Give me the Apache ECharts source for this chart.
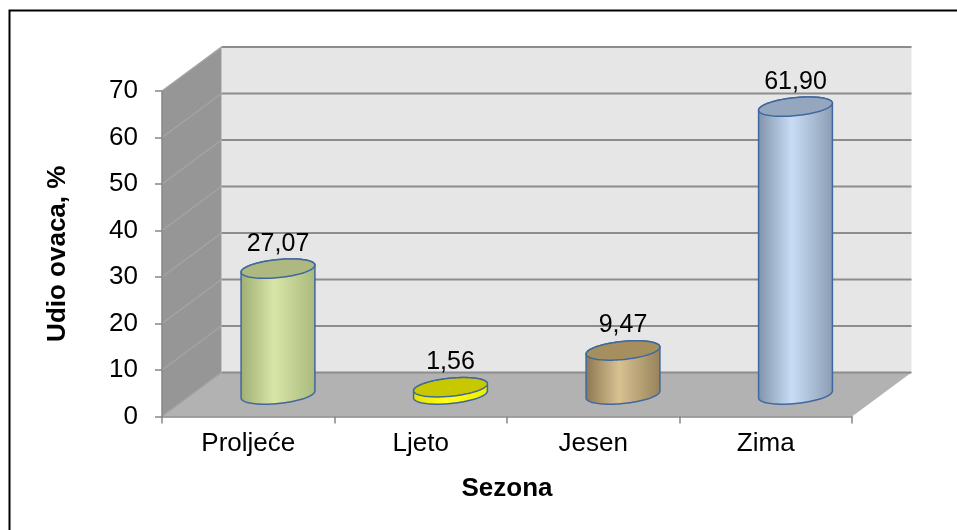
<!DOCTYPE html>
<html>
<head>
<meta charset="utf-8">
<script src="https://cdn.jsdelivr.net/npm/echarts@6/dist/echarts.min.js"></script>
<style>
html,body{margin:0;padding:0;background:#fff;}
#chart{width:957px;height:530px;}
</style>
</head>
<body>
<div id="chart"></div>
<script>
// ---- data ----
const categories = ['Proljeće', 'Ljeto', 'Jesen', 'Zima'];
const values = [27.07, 1.56, 9.47, 61.90];
const valueLabels = ['27,07', '1,56', '9,47', '61,90'];
const yMin = 0, yMax = 70, yStep = 10;
const xTitle = 'Sezona';
const yTitle = 'Udio ovaca, %';

// ---- styles ----
const FONT = '"Liberation Sans", Arial, sans-serif';
const DX = 59.5, DY = -44;           // 3D depth offset
const bodyDark = ['#9fae74', '#e3e300', '#8c7650', '#8093ab'];
const bodyLight = ['#d8e6a8', '#ffff1a', '#d8c292', '#c8ddf5'];
const bodyMid = ['#a9b87c', '#eded00', '#97825a', '#8a9db5'];
const topColors = ['#adb981', '#c8c800', '#a58f5f', '#94a7bf'];
const outline = '#40679e';

function wallsRender(params, api) {
  const cs = params.coordSys;
  const x0 = cs.x, x1 = cs.x + cs.width;
  const yb = api.coord([0, yMin])[1];
  const yt = api.coord([0, yMax])[1];
  const children = [];
  children.push({type: 'polygon', shape: {points: [[x0 + DX, yt + DY], [x1 + DX, yt + DY], [x1 + DX, yb + DY], [x0 + DX, yb + DY]]},
    style: {fill: '#e6e6e6'}});
  children.push({type: 'polygon', shape: {points: [[x0, yt], [x0 + DX, yt + DY], [x0 + DX, yb + DY], [x0, yb]]},
    style: {fill: '#969696'}});
  children.push({type: 'polygon', shape: {points: [[x0, yb], [x0 + DX, yb + DY], [x1 + DX, yb + DY], [x1, yb]]},
    style: {fill: '#b2b2b2'}});
  for (let v = yMin; v <= yMax; v += yStep) {
    const y = api.coord([0, v])[1];
    children.push({type: 'line', shape: {x1: x0 + DX, y1: y + DY, x2: x1 + DX, y2: y + DY},
      style: {stroke: '#8c8c8c', lineWidth: 2}});
    children.push({type: 'line', shape: {x1: x0, y1: y, x2: x0 + DX, y2: y + DY},
      style: {stroke: '#a4a4a4', lineWidth: 1.5}});
  }
  return {type: 'group', children: children};
}

function cylRender(params, api) {
  const i = api.value(0), v = api.value(1);
  const base = api.coord([i, 0]);
  const top = api.coord([i, v]);
  const bw = api.size([1, 0])[0];
  const a = bw * 0.215, b = 9, th = -0.1;
  const cx = base[0] + DX / 2;
  const yb = base[1] + DY / 2, yt = top[1] + DY / 2;
  const pt = (cy, t) => [
    cx + a * Math.cos(t) * Math.cos(th) - b * Math.sin(t) * Math.sin(th),
    cy + a * Math.cos(t) * Math.sin(th) + b * Math.sin(t) * Math.cos(th)
  ];
  const t0 = Math.atan2(-b * Math.sin(th), a * Math.cos(th));
  const N = 48;
  const body = [];
  for (let k = 0; k <= N; k++) body.push(pt(yb, t0 + Math.PI * k / N));
  for (let k = 0; k <= N; k++) body.push(pt(yt, t0 + Math.PI + Math.PI * k / N));
  const topE = [];
  for (let k = 0; k < 2 * N; k++) topE.push(pt(yt, Math.PI * k / N));
  return {
    type: 'group',
    children: [
      {type: 'polygon', shape: {points: body},
        style: {
          fill: new echarts.graphic.LinearGradient(0, 0, 1, 0, [
            {offset: 0, color: bodyDark[i]},
            {offset: 0.45, color: bodyLight[i]},
            {offset: 1, color: bodyMid[i]}
          ]),
          stroke: outline, lineWidth: 1.5
        }},
      {type: 'polygon', shape: {points: topE},
        style: {fill: topColors[i], stroke: outline, lineWidth: 1.5}},
      {type: 'text', style: {x: cx, y: yt - 25, text: valueLabels[i], fill: '#000',
        font: '25px ' + FONT, align: 'center', verticalAlign: 'middle'}}
    ]
  };
}

const chart = echarts.init(document.getElementById('chart'), null, {renderer: 'canvas'});
chart.setOption({
  animation: false,
  backgroundColor: '#ffffff',
  textStyle: {fontFamily: FONT},
  graphic: [{type: 'rect', silent: true, z: 100,
    shape: {x: 9.5, y: 10.5, width: 1200, height: 1200},
    style: {fill: null, stroke: '#000', lineWidth: 2}}],
  grid: {left: 162, right: 105, top: 91, bottom: 113.5},
  xAxis: {
    type: 'category', data: categories,
    axisLine: {lineStyle: {color: '#868686', width: 1.5}},
    axisTick: {show: true, length: 7, lineStyle: {color: '#868686', width: 1.5}},
    axisLabel: {fontSize: 26, color: '#000', margin: 14, fontFamily: FONT},
    name: xTitle, nameLocation: 'middle', nameGap: 59,
    nameTextStyle: {fontSize: 26, fontWeight: 'bold', color: '#000', fontFamily: FONT},
    z: 5
  },
  yAxis: {
    type: 'value', min: yMin, max: yMax, interval: yStep,
    axisLine: {show: true, lineStyle: {color: '#868686', width: 1.5}},
    axisTick: {show: true, length: 7, lineStyle: {color: '#868686', width: 1.5}},
    axisLabel: {fontSize: 26, color: '#000', margin: 24, fontFamily: FONT},
    splitLine: {show: false},
    name: yTitle, nameLocation: 'middle', nameGap: 91, nameRotate: 90,
    nameTextStyle: {fontSize: 26, fontWeight: 'bold', color: '#000', fontFamily: FONT},
    z: 5
  },
  series: [
    {type: 'custom', silent: true, z: 1, data: [[0, 0]], renderItem: wallsRender},
    {type: 'custom', silent: true, z: 6, data: values.map((v, i) => [i, v]), renderItem: cylRender}
  ]
});
</script>
</body>
</html>
